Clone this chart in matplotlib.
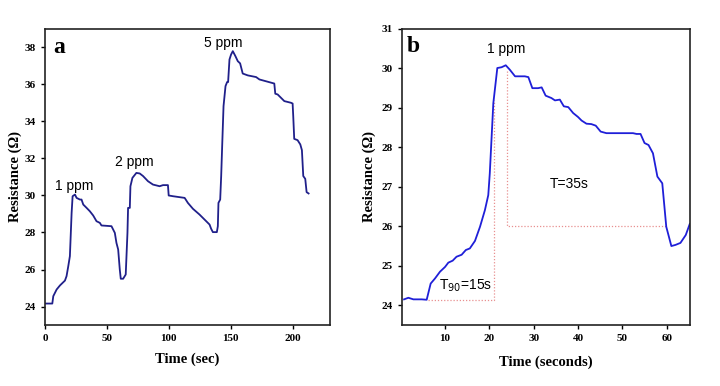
import matplotlib
matplotlib.use("Agg")
import matplotlib.pyplot as plt

# panel a: response to 1, 2 and 5 ppm
time_a = [0, 5.9, 6.7, 9.4, 12.1, 16.1, 17.4, 18.8, 20.1, 21.5, 22.3, 24.2, 25.5, 28.2, 29.5,
          30.9, 33.6, 36.2, 38.9, 41.6, 44.3, 45.6, 53.7, 56.4, 57.7, 59.1, 60.4, 61.2, 63.1,
          65.2, 66.6, 67.1, 68.5, 69.0, 70.6, 73.8, 76.5, 79.2, 83.2, 87.2, 92.6, 95.3, 99.3,
          99.9, 103.4, 112.8, 115.4, 119.5, 124.8, 130.2, 132.9, 134.2, 135.6, 138.8, 139.6,
          140.1, 141.5, 142.3, 143.1, 144.2, 145.8, 147.1, 147.9, 149.0, 150.3, 151.7, 153.8,
          155.7, 157.6, 159.7, 163.8, 170.5, 173.2, 185.2, 186.0, 187.9, 190.6, 193.3, 198.7,
          200.0, 200.5, 201.3, 204.0, 206.2, 207.5, 208.6, 210.2, 211.3, 212.9]
res_a = [24.16, 24.16, 24.56, 24.92, 25.14, 25.4, 25.64, 26.18, 26.72, 29.06, 29.96, 30.05,
         29.87, 29.78, 29.78, 29.51, 29.33, 29.15, 28.92, 28.61, 28.52, 28.38, 28.34, 27.98,
         27.44, 27.08, 26.0, 25.5, 25.5, 25.73, 27.98, 29.33, 29.33, 30.5, 30.95, 31.22, 31.19,
         31.05, 30.77, 30.59, 30.5, 30.56, 30.56, 30.0, 29.96, 29.87, 29.6, 29.28, 28.97, 28.61,
         28.43, 28.2, 28.02, 28.02, 28.34, 29.6, 29.78, 31.05, 32.67, 34.83, 35.91, 36.13,
         36.13, 37.35, 37.62, 37.80, 37.53, 37.26, 37.14, 36.59, 36.49, 36.40, 36.27, 36.05,
         35.5, 35.46, 35.28, 35.1, 35.01, 34.97, 34.29, 33.06, 32.99, 32.76, 32.45, 31.05,
         30.9, 30.18, 30.11]

# panel b: single 1 ppm cycle
time_b = [0.77, 1.74, 2.87, 4.74, 5.87, 6.77, 7.75, 8.87, 10.0, 10.75, 11.73, 12.6, 13.75,
          14.7, 15.6, 16.76, 17.9, 19.0, 19.76, 20.1, 20.9, 21.8, 22.76, 23.7, 24.6, 25.8,
          28.0, 28.8, 29.7, 31.0, 31.8, 32.7, 34.0, 34.8, 35.9, 36.8, 37.8, 38.9, 40.0, 40.8,
          41.9, 43.0, 44.0, 45.1, 46.4, 50.9, 52.4, 53.2, 54.1, 55.0, 55.9, 56.9, 57.9, 59.0,
          59.9, 61.05, 62.0, 63.1, 64.3, 65.2]
res_b = [24.15, 24.19, 24.15, 24.15, 24.14, 24.55, 24.68, 24.85, 24.97, 25.08, 25.13, 25.23,
         25.28, 25.40, 25.44, 25.63, 25.99, 26.41, 26.79, 27.34, 29.12, 30.01, 30.03, 30.08,
         29.97, 29.80, 29.80, 29.78, 29.5, 29.5, 29.52, 29.31, 29.25, 29.19, 29.21, 29.04,
         29.02, 28.87, 28.77, 28.68, 28.6, 28.59, 28.55, 28.40, 28.36, 28.36, 28.36, 28.34,
         28.34, 28.11, 28.06, 27.85, 27.26, 27.09, 25.99, 25.5, 25.53, 25.58, 25.78, 26.06]

# guide lines for response / recovery times
t90_x = [6.2, 21.1, 21.1]
t90_y = [24.13, 24.13, 29.2]
rec_x = [23.9, 23.9, 60.0]
rec_y = [29.93, 26.0, 26.0]

serif = "Liberation Serif"
sans = "Liberation Sans"

fig = plt.figure(figsize=(7.2, 3.86), dpi=100)
ax1 = fig.add_axes([0.0625, 0.158, 0.3955, 0.767])
ax2 = fig.add_axes([0.558, 0.158, 0.400, 0.767])

ax1.plot(time_a, res_a, color="#20208a", lw=1.3)
ax1.set_xlim(0, 230)
ax1.set_ylim(23, 39)
ax1.set_xticks([0, 50, 100, 150, 200])
ax1.set_yticks(range(24, 39, 2))
ax1.set_xlabel("Time (sec)", fontfamily=serif, fontweight="bold", fontsize=10.5, labelpad=7)
ax1.set_ylabel("Resistance (\u03a9)", fontfamily=serif, fontweight="bold", fontsize=10.5, labelpad=2)
ax1.text(11.5, 38.0, "a", fontfamily=serif, fontweight="bold", fontsize=17, ha="center", va="center")
ax1.text(23.4, 30.5, "1 ppm", fontfamily=sans, fontsize=10, ha="center", va="center")
ax1.text(72.5, 31.8, "2 ppm", fontfamily=sans, fontsize=10, ha="center", va="center")
ax1.text(144.2, 38.25, "5 ppm", fontfamily=sans, fontsize=10, ha="center", va="center")

ax2.plot(t90_x, t90_y, color="#e89090", lw=0.9, ls=(0, (1, 1.5)))
ax2.plot(rec_x, rec_y, color="#e89090", lw=0.9, ls=(0, (1, 1.5)))
ax2.plot(time_b, res_b, color="#1f1fd8", lw=1.3)
ax2.set_xlim(0.25, 65.2)
ax2.set_ylim(23.5, 31)
ax2.set_xticks([10, 20, 30, 40, 50, 60])
ax2.set_yticks(range(24, 32))
ax2.set_xlabel("Time (seconds)", fontfamily=serif, fontweight="bold", fontsize=10.5, labelpad=9)
ax2.set_ylabel("Resistance (\u03a9)", fontfamily=serif, fontweight="bold", fontsize=10.5)
ax2.text(2.9, 30.55, "b", fontfamily=serif, fontweight="bold", fontsize=17, ha="center", va="center")
ax2.text(23.7, 30.5, "1 ppm", fontfamily=sans, fontsize=10, ha="center", va="center")
ax2.text(37.9, 27.07, "T=35s", fontfamily=sans, fontsize=10, ha="center", va="center")
ax2.text(14.7, 24.5, "T$_{90}$=15s", fontfamily=sans, fontsize=10, ha="center", va="center")

for ax in (ax1, ax2):
    for sp in ax.spines.values():
        sp.set_linewidth(1.2)
        sp.set_color("#222222")
    ax.tick_params(direction="out", length=3, width=1, labelsize=8)
    for lab in ax.get_xticklabels() + ax.get_yticklabels():
        lab.set_fontfamily(serif)
        lab.set_fontweight("bold")

fig.savefig("out.png", dpi=100)
